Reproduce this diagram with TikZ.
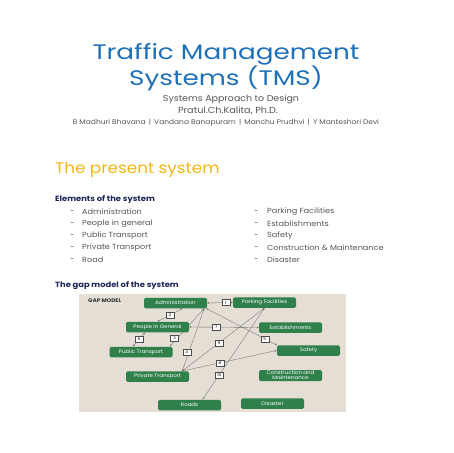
\documentclass[tikz,border=0pt]{standalone}
\usepackage{fontspec}
\setmainfont{Poppins}[FakeStretch=1.1]
\newfontfamily\titlefont{Poppins}[FakeStretch=1.25]
\usepackage{tikz}
\usetikzlibrary{arrows.meta}

\definecolor{titleblue}{RGB}{30,112,184}
\definecolor{presentgold}{RGB}{240,182,20}
\definecolor{headnavy}{RGB}{28,38,88}
\definecolor{itemgray}{RGB}{85,85,85}
\definecolor{panelbeige}{RGB}{229,222,212}
\definecolor{boxgreen}{RGB}{48,128,76}

\pgfdeclarelayer{bottom}
\pgfdeclarelayer{links}
\pgfsetlayers{bottom,links,main}

\begin{document}
\begin{tikzpicture}[x=1pt,y=-1pt,
    element/.style={fill=boxgreen, rounded corners=1.5pt, minimum width=63pt,
      minimum height=10.5pt, inner sep=0pt, text=white, align=center,
      font=\fontsize{5}{5.2}\selectfont},
    gaplabel/.style={draw=black!70, line width=0.3pt, fill=white, inner sep=0pt,
      minimum width=8pt, minimum height=6pt, font=\fontsize{3.8}{4}\selectfont},
    link/.style={draw=black!55, line width=0.35pt,
      {Stealth[length=2.2pt,width=1.8pt]}-{Stealth[length=2.2pt,width=1.8pt]}},
    item/.style={anchor=west, inner sep=0pt, text=itemgray, font=\fontsize{7.4}{8}\selectfont},
    heading/.style={anchor=west, inner sep=0pt, text=headnavy, font=\fontsize{7.6}{8}\selectfont\bfseries}]
    \useasboundingbox (0,0) rectangle (453,453);

    % Title block
    \node[text=titleblue, font=\titlefont\fontsize{21}{26}\selectfont, align=center] (title) at (226,67)
        {Traffic Management\\Systems (TMS)};
    \node[text=itemgray, font=\fontsize{8.6}{9}\selectfont] (subtitle) at (231,99) {Systems Approach to Design};
    \node[text=itemgray, font=\fontsize{8.8}{9}\selectfont] (author) at (228,111) {Pratul.Ch.Kalita, Ph.D.};
    \node[text=itemgray, font=\fontsize{6.8}{7}\selectfont] (team) at (226,123)
        {B Madhuri Bhavana \,|\, Vandana Banapuram \,|\, Manchu Prudhvi \,|\, Y Manteshori Devi};

    % The present system
    \node[anchor=west, inner sep=0pt, text=presentgold, font=\fontsize{15.3}{16}\selectfont] (present) at (55,170)
        {The present system};
    \node[heading] (elements) at (55,200) {Elements of the system};

    % Elements, left column
    \node[item] (d1) at (70,212) {-};  \node[item] (e1) at (82,212) {Administration};
    \node[item] (d2) at (70,224) {-};  \node[item] (e2) at (82,224) {People in general};
    \node[item] (d3) at (70,236) {-};  \node[item] (e3) at (82,236) {Public Transport};
    \node[item] (d4) at (70,248) {-};  \node[item] (e4) at (82,248) {Private Transport};
    \node[item] (d5) at (70,260) {-};  \node[item] (e5) at (82,260) {Road};

    % Elements, right column
    \node[item] (d6) at (254,212) {-};  \node[item] (e6) at (267,212) {Parking Facilities};
    \node[item] (d7) at (254,224) {-};  \node[item] (e7) at (267,224) {Establishments};
    \node[item] (d8) at (254,236) {-};  \node[item] (e8) at (267,236) {Safety};
    \node[item] (d9) at (254,248) {-};  \node[item] (e9) at (267,248) {Construction \& Maintenance};
    \node[item] (d10) at (254,260) {-}; \node[item] (e10) at (267,260) {Disaster};

    \node[heading] (gaphead) at (55,286) {The gap model of the system};

    % Gap model panel
    \begin{pgfonlayer}{bottom}
        \fill[panelbeige] (79,294) rectangle (346,412);
    \end{pgfonlayer}
    \node[anchor=west, inner sep=0pt, font=\fontsize{5.2}{6}\selectfont\bfseries, text=black!80] (gapmodel) at (88,301) {GAP MODEL};

    \node[element] (admin)   at (175.5,303)   {Administration};
    \node[element] (parking) at (264.5,302.5) {Parking Facilities};
    \node[element] (people)  at (157.5,327)   {People in General};
    \node[element] (estab)   at (290.5,327.5) {Establishments};
    \node[element] (public)  at (141,352)     {Public Transport};
    \node[element] (safety)  at (308.5,350.5) {Safety};
    \node[element] (private) at (157.5,376.5) {Private Transport};
    \node[element, minimum height=11pt] (constr) at (290.5,375.5) {Construction and\\Maintenance};
    \node[element] (roads)   at (189.5,405)   {Roads};
    \node[element] (disaster) at (272.5,403.5) {Disaster};

    % Gaps between the elements
    \begin{pgfonlayer}{links}
        \draw[link] (admin.east) -- node[gaplabel, pos=0.73] (g1) {1} (parking.west);
        \draw[link] ([xshift=7pt]admin.south) -- node[gaplabel] (g2) {2} (people.north);
        \draw[link] ([xshift=-3pt]admin.south east) -- node[gaplabel, pos=0.77, xshift=-3pt] (g3) {3} ([xshift=-3pt]public.north east);
        \draw[link] ([xshift=-3pt]admin.south east) -- node[gaplabel, pos=0.7, xshift=-2pt] (g4) {4} ([xshift=-7pt]private.north east);
        \draw[link] ([xshift=-1pt]admin.south east) -- node[gaplabel, pos=0.83] (g5) {5} (safety.north west);
        \draw[link] ([xshift=-12.5pt]people.south) -- node[gaplabel] (g6) {6} ([xshift=-8pt]public.north);
        \draw[link] (people.east) -- node[gaplabel, pos=0.39] (g7) {7} (estab.west);
        \draw[link] ([xshift=-7pt]private.north east) -- node[gaplabel, pos=0.4] (g8) {8} (safety.west);
        \draw[link] ([xshift=-7pt]private.north east) -- node[gaplabel, pos=0.45] (g9) {9} (parking.south);
        \draw[link] ([xshift=13pt]roads.north) -- node[gaplabel, pos=0.27] (g10) {10} (parking.south);
    \end{pgfonlayer}
\end{tikzpicture}
\end{document}
